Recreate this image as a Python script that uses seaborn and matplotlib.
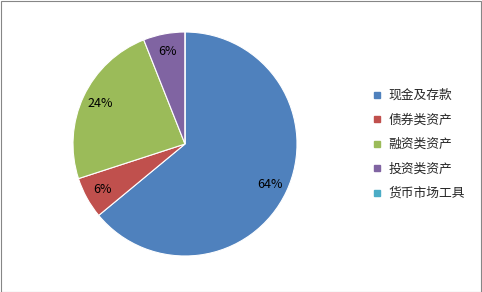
import matplotlib
matplotlib.use("Agg")
import matplotlib.pyplot as plt
import seaborn as sns
from matplotlib.patches import Rectangle
from matplotlib.lines import Line2D

categories = ["现金及存款", "债券类资产", "融资类资产", "投资类资产", "货币市场工具"]
values = [64, 6, 24, 6, 0]
colors = ["#4F81BD", "#C0504D", "#9BBB59", "#8064A2", "#4BACC6"]

sns.set_theme(style="white")
plt.rcParams['font.family'] = ['Noto Sans CJK SC', 'DejaVu Sans']

W, H = 482, 292
fig = plt.figure(figsize=(W / 100, H / 100), dpi=100)
fig.patch.set_facecolor("white")

cx, cy, r = 185, 144, 112
ax = fig.add_axes([(cx - r) / W, (H - cy - r) / H, 2 * r / W, 2 * r / H])

def fmt(p):
    return f"{p:.0f}%" if p > 0.5 else ""

wedges, texts, autotexts = ax.pie(
    values, colors=colors, startangle=90, counterclock=False,
    autopct=fmt, pctdistance=0.84,
    wedgeprops=dict(edgecolor="white", linewidth=0.8),
    textprops=dict(fontsize=9, color="black"),
)
ax.set_xlim(-1, 1)
ax.set_ylim(-1, 1)
ax.set_aspect("equal")
ax.axis("off")

handles = [Line2D([0], [0], marker="s", linestyle="", markersize=5,
                  markerfacecolor=c, markeredgecolor=c) for c in colors]
fig.legend(handles, categories, loc="upper left",
           bbox_to_anchor=(367 / W, 1 - 84 / H), frameon=False,
           fontsize=9.2, handlelength=0.8, handletextpad=0.5,
           labelspacing=0.9, borderaxespad=0)

fig.add_artist(Rectangle((0.5 / W, 0.5 / H), (W - 1.5) / W, (H - 1.5) / H,
                         transform=fig.transFigure, fill=False,
                         edgecolor="#868686", linewidth=0.8))

fig.savefig("out.png", dpi=100)
